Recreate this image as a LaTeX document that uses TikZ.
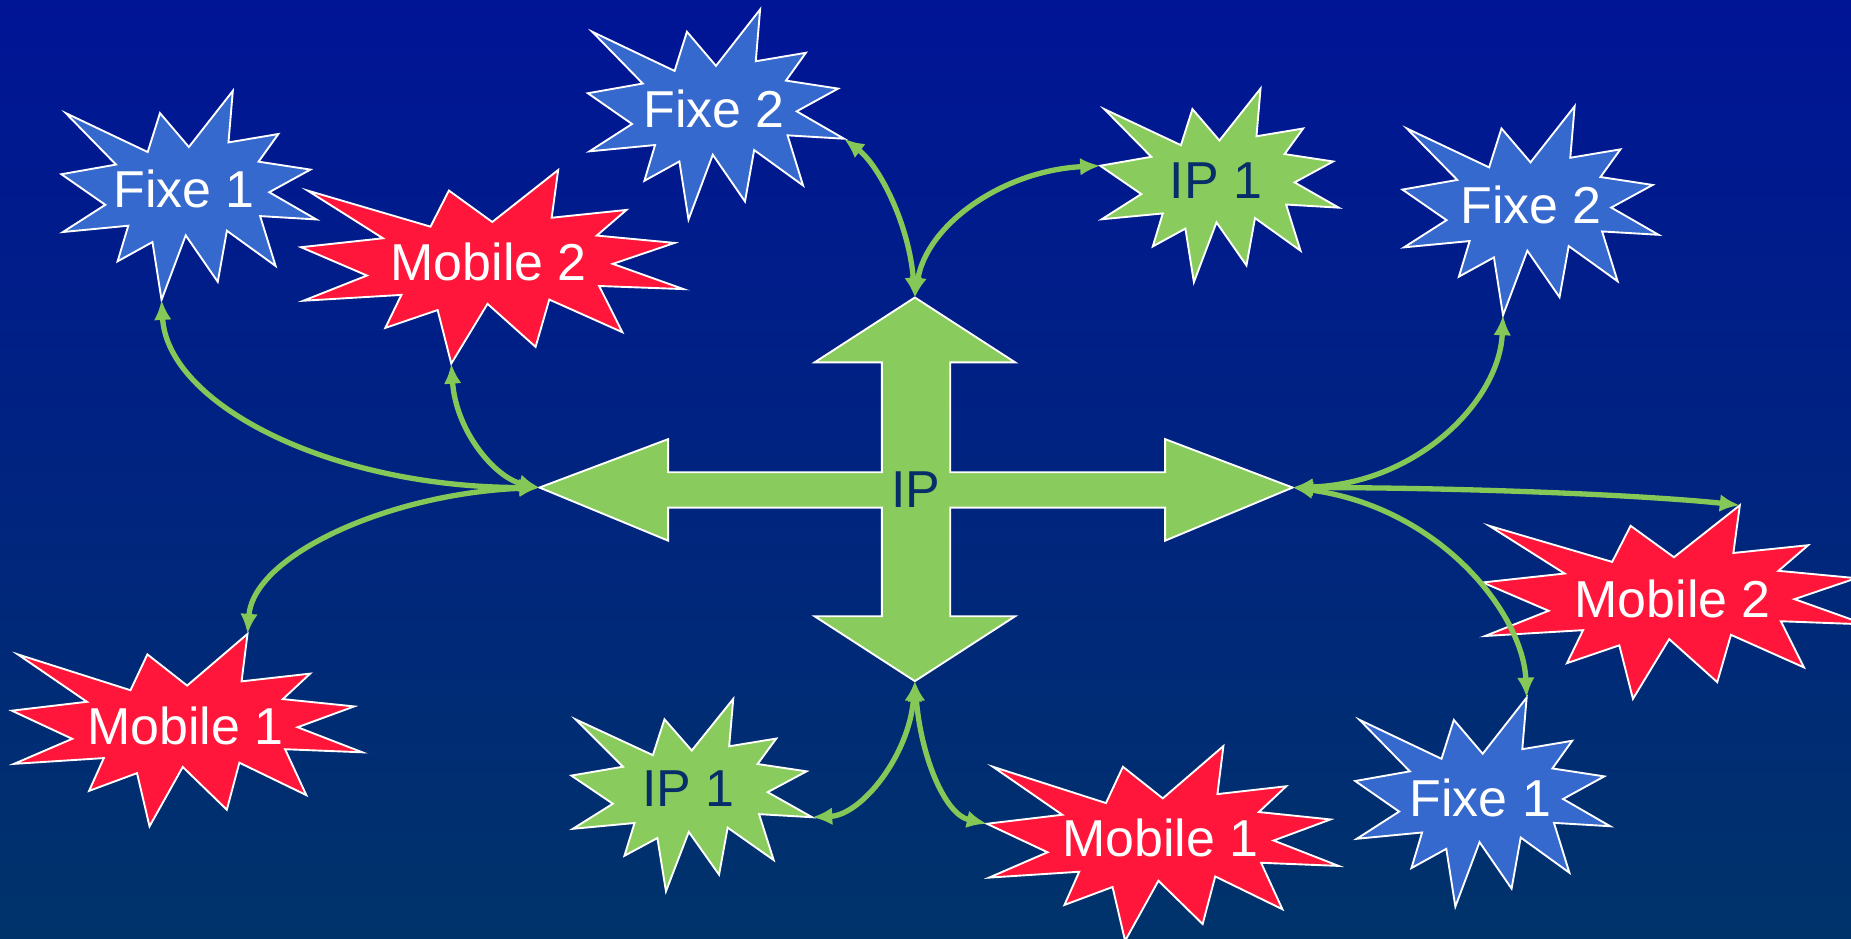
\documentclass[tikz,border=0pt]{standalone}
\usepackage{fontspec}
\setmainfont{Liberation Sans}
\usetikzlibrary{arrows.meta}
\definecolor{bgtop}{RGB}{0,20,150}
\definecolor{bgbot}{RGB}{0,51,106}
\definecolor{fixeblue}{RGB}{54,105,205}
\definecolor{mobred}{RGB}{255,22,58}
\definecolor{ipgreen}{RGB}{137,203,92}
\definecolor{conngreen}{RGB}{134,200,88}
\definecolor{iptext}{RGB}{8,45,105}
\newcommand\burst[6]{%
  \begin{scope}[shift={(#3,#4)},xscale=#5/216,yscale=#6/216]
    \filldraw[burstline,fill=#2] (108,58) -- (145.22,0) -- (141.55,53.25) -- (183.80,44.57) -- (167.02,73.15) -- (210.97,81.37) -- (176.07,104.75) -- (216,132.90) -- (168.37,129.42) -- (181.45,180.95) -- (140.20,144.57) -- (132.47,197.37) -- (105.32,149.35) -- (84.85,216) -- (77.15,156.27) -- (47.62,176.17) -- (56.67,139.37) -- (1.35,145.87) -- (37.22,117.75) -- (0,86.15) -- (46.27,76.17) -- (3.70,22.95) -- (73.12,63.20) -- (83.52,22.95) -- cycle;
    \coordinate (#1-N) at (145.22,0);
    \coordinate (#1-S) at (84.85,216);
    \coordinate (#1-E) at (216,132.90);
    \coordinate (#1-W) at (0,86.15);
  \end{scope}}
\begin{document}
\begin{tikzpicture}[x=1pt,y=-1pt,
  burstline/.style={draw=white,line width=1.6pt,line join=miter},
  label/.style={font=\fontsize{44}{50}\selectfont,text=white,inner sep=0pt,anchor=center},
  iplabel/.style={label,text=iptext},
  conn/.style={draw=conngreen,line width=4.5pt,
    {Latex[length=17pt,width=15pt]}-{Latex[length=17pt,width=15pt]}}]
  \useasboundingbox (0,0) rectangle (1568,795);
  \shade[top color=bgtop,bottom color=bgbot] (0,0) rectangle (1568,795);
  \clip (0,0) rectangle (1568,795);

  % stars
  \burst{f1a}{fixeblue}{52}{77}{216}{177}
  \burst{m2a}{mobred}{255}{144}{324}{164}
  \burst{f2a}{fixeblue}{498}{8}{217}{178}
  \burst{ipa}{ipgreen}{932}{75}{202}{164}
  \burst{f2b}{fixeblue}{1188}{90}{217}{177}
  \burst{m1a}{mobred}{10}{537}{297}{163}
  \burst{ipb}{ipgreen}{484}{592}{204}{163}
  \burst{m1b}{mobred}{836}{632}{298}{165}
  \burst{m2b}{mobred}{1256}{428}{324}{164}
  \burst{f1b}{fixeblue}{1148}{591}{216}{177}

  % central quad arrow
  \filldraw[fill=ipgreen,draw=white,line width=1.6pt,line join=miter]
    (457,413) -- (566,372) -- (566,400) -- (747,400) -- (747,307) -- (690,307)
    -- (775,252) -- (860,307) -- (805,307) -- (805,400) -- (987,400) -- (987,372)
    -- (1095,413) -- (987,458) -- (987,430) -- (805,430) -- (805,522) -- (860,522)
    -- (775,577) -- (690,522) -- (747,522) -- (747,430) -- (566,430) -- (566,458) -- cycle;
  \coordinate (L) at (457,413);
  \coordinate (R) at (1095,413);
  \coordinate (U) at (775,252);
  \coordinate (D) at (775,577);

  % connectors
  \draw[conn] (f1a-S) .. controls +(5,88) and +(-178,0) .. (L);
  \draw[conn] (m2a-S) .. controls +(4,58) and +(-37,-8) .. (L);
  \draw[conn] (L) .. controls +(-127,5) and +(5,-67) .. (m1a-N);
  \draw[conn] (f2a-E) .. controls +(30,23) and +(-5,-62) .. (U);
  \draw[conn] (U) .. controls +(10,-62) and +(-82,4) .. (ipa-W);
  \draw[conn] (f2b-S) .. controls +(-3,73) and +(105,-3) .. (R);
  \draw[conn] (R) .. controls +(155,0) and +(-74,-8) .. (m2b-N);
  \draw[conn] (R) .. controls +(125,17) and +(-3,-71) .. (f1b-N);
  \draw[conn] (D) .. controls +(-5,63) and +(42,-2) .. (ipb-E);
  \draw[conn] (D) .. controls +(5,63) and +(-36,-8) .. (m1b-W);

  % labels
  \node[label] (tf1a) at (156,160) {Fixe 1};
  \node[label] (tm2a) at (414,222) {Mobile 2};
  \node[label] (tf2a) at (605,92) {Fixe 2};
  \node[iplabel] (tipa) at (1030,153) {IP 1};
  \node[label] (tf2b) at (1297,174) {Fixe 2};
  \node[label] (tm1a) at (157,615) {Mobile 1};
  \node[iplabel] (tipb) at (583,668) {IP 1};
  \node[label] (tm1b) at (983,710) {Mobile 1};
  \node[label] (tm2b) at (1417,507) {Mobile 2};
  \node[label] (tf1b) at (1254,676) {Fixe 1};
  \node[iplabel] (tip) at (776,415) {IP};
\end{tikzpicture}
\end{document}
